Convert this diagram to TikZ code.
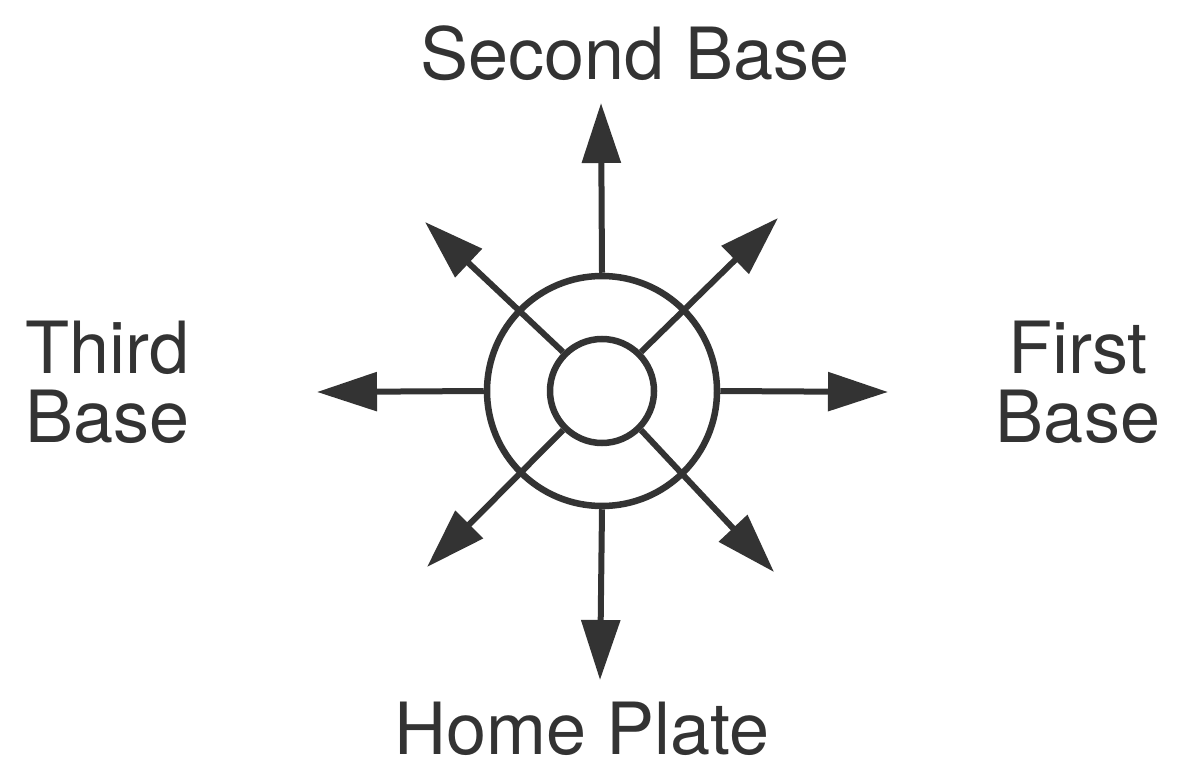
\documentclass[tikz,border=0pt]{standalone}
\usepackage{fontspec}
\setmainfont{TeX Gyre Heros}
\usetikzlibrary{arrows.meta}
\definecolor{ink}{HTML}{333333}
\begin{document}
\begin{tikzpicture}[x=1pt,y=-1pt,
  ring/.style={draw=ink, circle, line width=6.5pt, inner sep=0pt},
  ray/.style={draw=ink, line width=6pt, -{Triangle[length=60pt,width=38pt]}},
  fieldtext/.style={text=ink, inner sep=0pt, font=\fontsize{72}{69}\selectfont}]
\useasboundingbox[fill=white] (0,0) rectangle (1185,759);

% the two rings
\node[ring, minimum size=230pt] (outer) at (602,391) {};
\node[ring, minimum size=104pt] (inner) at (602,391) {};

% arrow ends
\coordinate (tipN) at (601,103);
\coordinate (tipS) at (600,680);
\coordinate (tipW) at (317,392);
\coordinate (tipE) at (888,392);
\coordinate (tipNW) at (425,222);
\coordinate (tipNE) at (778,218);
\coordinate (tipSE) at (774,572);
\coordinate (tipSW) at (427,567);

\draw[ray] (outer.north) -- (tipN);
\draw[ray] (outer.south) -- (tipS);
\draw[ray] (outer.west) -- (tipW);
\draw[ray] (outer.east) -- (tipE);
\draw[ray] (inner.north west) -- (tipNW);
\draw[ray] (inner.north east) -- (tipNE);
\draw[ray] (inner.south east) -- (tipSE);
\draw[ray] (inner.south west) -- (tipSW);

% labels
\node[fieldtext, anchor=base] (second) at (635,80) {Second Base};
\node[fieldtext, anchor=base west, align=left] (third) at (25,442) {Third\\Base};
\node[fieldtext, anchor=base, align=center] (first) at (1078,442) {First\\Base};
\node[fieldtext, anchor=base] (home) at (582,754) {Home Plate};
\end{tikzpicture}
\end{document}
